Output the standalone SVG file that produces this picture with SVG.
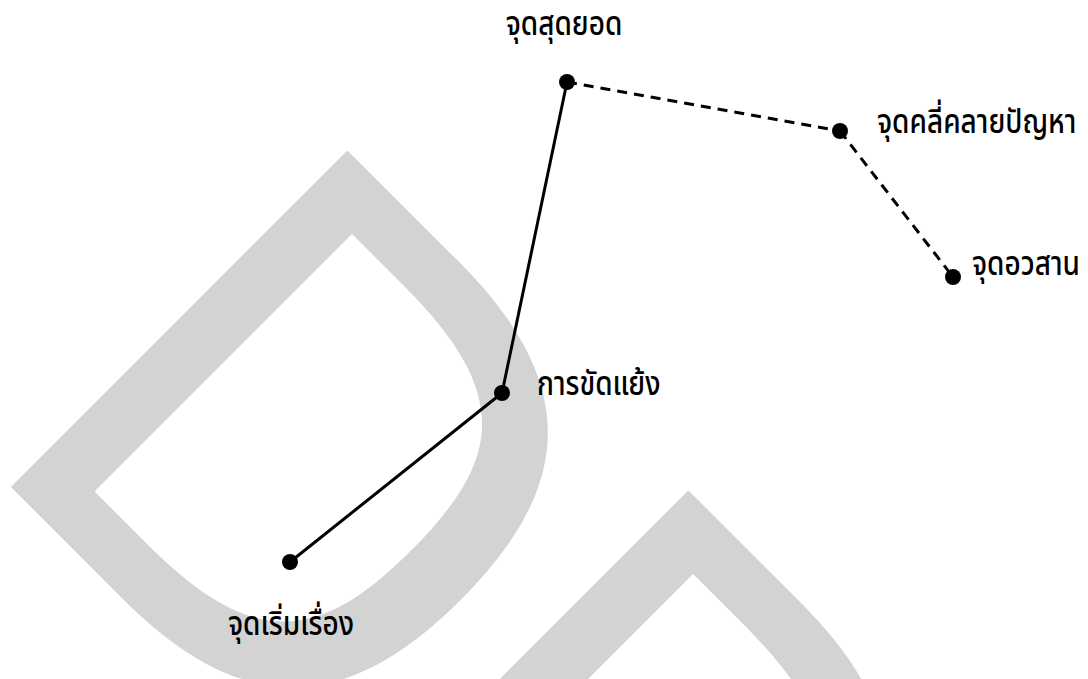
<svg xmlns="http://www.w3.org/2000/svg" width="1088" height="679" viewBox="0 0 1088 679">
<style>
.wm{fill:#d3d3d3;fill-rule:evenodd;stroke:none}
.dot{fill:#000}
.solid{stroke:#000;stroke-width:3;fill:none}
.dash{stroke:#000;stroke-width:3;fill:none;stroke-dasharray:10 7}
.lbl{font-family:"Noto Sans Thai","Noto Sans","DejaVu Sans",sans-serif;font-size:28px;font-weight:500;fill:#000}
</style>
<defs>
<path id="dshape" d="M352,336.6 L352,-139.3 L510,-139.3 C685,-139.3 750,-58 750,98.7 C750,255.4 685,336.6 510,336.6 Z M414.4,280.7 L414.4,-83.4 L489,-83.4 C640,-83.4 680,-30 680,98.65 C680,227.3 640,280.7 489,280.7 Z"/>
</defs>
<rect width="1088" height="679" fill="#fff"/>
<g id="watermark">
<use href="#dshape" class="wm" transform="rotate(45)"/>
<use href="#dshape" class="wm" transform="translate(341 340) rotate(45)"/>
</g>
<g id="connectors">
<line class="solid" x1="290" y1="562" x2="502" y2="393"/>
<line class="solid" x1="502" y1="393" x2="567" y2="82"/>
<line class="dash" x1="567" y1="82" x2="840" y2="131"/>
<line class="dash" x1="840" y1="131" x2="953" y2="277"/>
</g>
<g id="node-start">
<circle class="dot" cx="290" cy="562" r="8"/>
<text class="lbl" transform="translate(291 635) scale(1 1.18)" text-anchor="middle">จุดเริ่มเรื่อง</text>
</g>
<g id="node-conflict">
<circle class="dot" cx="502" cy="393" r="8"/>
<text class="lbl" transform="translate(537 395) scale(1 1.18)">การขัดแย้ง</text>
</g>
<g id="node-climax">
<circle class="dot" cx="567" cy="82" r="8"/>
<text class="lbl" transform="translate(564 35) scale(1 1.18)" text-anchor="middle">จุดสุดยอด</text>
</g>
<g id="node-resolution">
<circle class="dot" cx="840" cy="131" r="8"/>
<text class="lbl" transform="translate(877 133) scale(1 1.18)">จุดคลี่คลายปัญหา</text>
</g>
<g id="node-end">
<circle class="dot" cx="953" cy="277" r="8"/>
<text class="lbl" transform="translate(972 275) scale(1 1.18)">จุดอวสาน</text>
</g>
</svg>
